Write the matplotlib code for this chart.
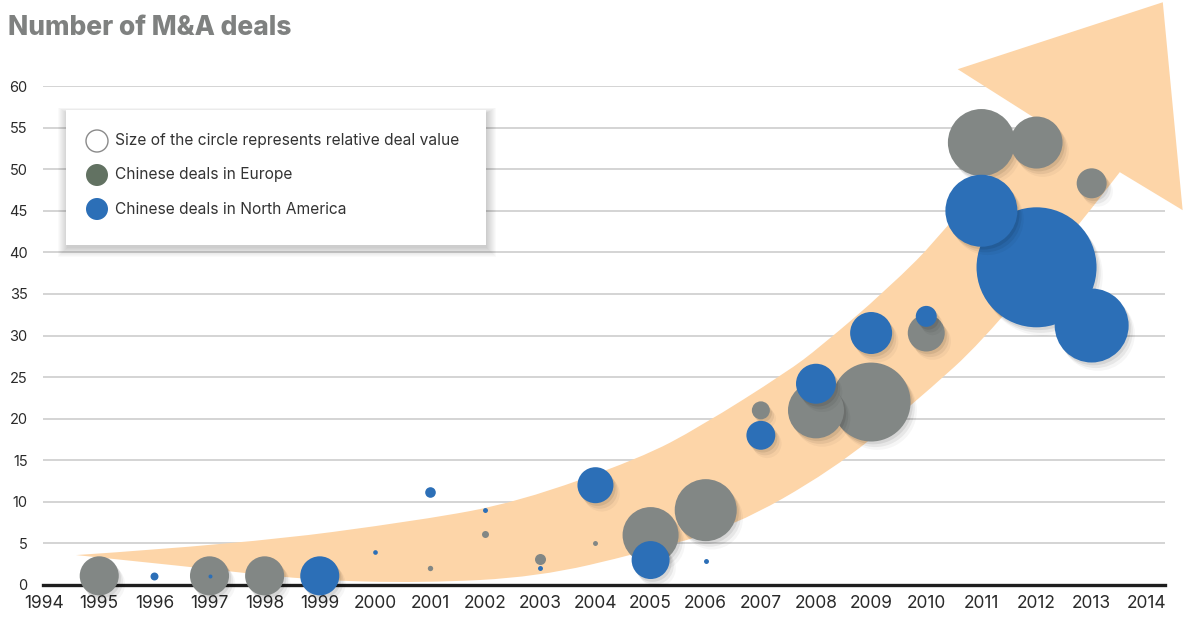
import numpy as np
import matplotlib
matplotlib.use("Agg")
import matplotlib.pyplot as plt
from matplotlib.path import Path
from matplotlib.patches import PathPatch, Rectangle, Circle
import matplotlib.patheffects as pe

plt.rcParams['font.family'] = ['Inter', 'DejaVu Sans']

# ---- data ----
years = list(range(1994, 2015))

eu_years = [1995, 1997, 1998, 2001, 2002, 2003, 2004, 2005, 2006, 2007, 2008, 2009, 2010, 2011, 2012, 2013]
eu_deals = [1.1, 1.1, 1.1, 2.0, 6.1, 3.1, 5.0, 6.0, 9.0, 21.0, 21.0, 22.0, 30.3, 53.2, 53.2, 48.3]
eu_value = [10.6, 10.6, 10.6, 0.2, 0.34, 0.84, 0.17, 21.8, 26.7, 2.25, 21.8, 43.3, 9.5, 31.2, 18.8, 6.25]

na_years = [1996, 1997, 1999, 2000, 2001, 2002, 2003, 2004, 2005, 2006, 2007, 2008, 2009, 2010, 2011, 2012, 2013]
na_deals = [1.1, 1.1, 1.1, 4.0, 11.2, 9.0, 2.0, 12.0, 3.0, 2.9, 18.0, 24.2, 30.3, 32.3, 45.0, 38.2, 31.2]
na_value = [0.44, 0.11, 10.6, 0.15, 0.78, 0.17, 0.17, 9.0, 10.0, 0.17, 5.8, 11.1, 12.25, 3.06, 36.0, 100.0, 38.0]

# arrow outline (decoration) in data units
arrow_upper = [(1994.58, 3.6), (1997.59, 4.93), (2000.86, 7.81), (2002.60, 9.98), (2004.82, 15.26),
               (2005.89, 18.99), (2007.47, 25.6), (2008.07, 28.6), (2009.28, 35.46), (2010.37, 42.67),
               (2011.97, 56.13)]
arrow_head = [(2010.57, 62.02), (2014.29, 70.07), (2014.65, 45.07), (2013.51, 49.64)]
arrow_lower = [(2013.51, 49.64), (2011.39, 31.49), (2009.64, 21.03), (2008.30, 13.82), (2006.49, 6.97),
               (2004.82, 3.85), (2002.95, 0.96), (2000.86, 0.24), (1998.77, 0.60), (1996.69, 2.16),
               (1994.58, 3.6)]

GRAY = '#828785'
BLUE = '#2c6fb7'
PEACH = '#fdd5a8'


def smooth(points):
    # quadratic spline through the end points, interior points used as controls
    verts = [points[0]]
    codes = [Path.LINETO]
    for i in range(1, len(points) - 1):
        p = np.array(points[i])
        if i < len(points) - 2:
            end = (p + np.array(points[i + 1])) / 2
        else:
            end = np.array(points[-1])
        verts += [tuple(p), tuple(end)]
        codes += [Path.CURVE3, Path.CURVE3]
    return verts, codes


fig = plt.figure(figsize=(11.86, 6.18), dpi=100)
ax = fig.add_axes([43 / 1186, 33 / 618, 1122 / 1186, 499 / 618])
ax.set_xlim(1993.98, 2014.33)
ax.set_ylim(0, 60)

# arrow
v1, c1 = smooth(arrow_upper)
v2, c2 = smooth(arrow_lower)
verts = v1 + arrow_head + v2[1:] + [(0, 0)]
codes = c1 + [Path.LINETO] * len(arrow_head) + c2[1:] + [Path.CLOSEPOLY]
codes[0] = Path.MOVETO
arrow = PathPatch(Path(verts, codes), facecolor=PEACH, edgecolor='none', zorder=1, clip_on=False)
ax.add_patch(arrow)

shadow = [pe.SimplePatchShadow(offset=(1.5, -2), shadow_rgbFace='k', alpha=0.08),
          pe.SimplePatchShadow(offset=(3, -4), shadow_rgbFace='k', alpha=0.06),
          pe.SimplePatchShadow(offset=(4.5, -6), shadow_rgbFace='k', alpha=0.035),
          pe.Normal()]


def bubbles(xs, ys, vals, color, z0):
    order = np.argsort(vals)[::-1]
    for k, i in enumerate(order):
        s = vals[i] * 74.65
        ax.scatter(xs[i], ys[i], s=s, color=color, linewidths=0, zorder=z0 + k * 0.01,
                   clip_on=False, path_effects=shadow if vals[i] > 1 else None)


bubbles(eu_years, eu_deals, eu_value, GRAY, 3)
bubbles(na_years, na_deals, na_value, BLUE, 4)

# axes styling
ax.set_xticks(years)
ax.set_xticklabels([str(y) for y in years], fontsize=12.5, color='#2a2a2a')
ax.set_yticks(range(0, 65, 5))
ax.set_yticklabels([str(v) for v in range(0, 65, 5)], fontsize=10.5, color='#2a2a2a')
ax.tick_params(axis='both', length=0)
ax.tick_params(axis='x', pad=7)
ax.tick_params(axis='y', pad=11)
ax.set_axisbelow(True)
ax.yaxis.grid(True, color='#c9c9c9', linewidth=1.1)
for side in ['top', 'left', 'right']:
    ax.spines[side].set_visible(False)
ax.spines['bottom'].set_color('#1e1e1e')
ax.spines['bottom'].set_linewidth(2.4)
ax.spines['bottom'].set_zorder(2)

# overlay in pixel units for title and legend box
lax = fig.add_axes([0, 0, 1, 1], zorder=10)
lax.set_xlim(0, 1186)
lax.set_ylim(618, 0)
lax.axis('off')

lax.text(8, 35, 'Number of M&A deals', fontsize=19, fontweight='heavy', color='#7f8180', va='baseline')

bx, by, bw, bh = 66, 110, 420, 135
for i in range(10):
    lax.add_patch(Rectangle((bx - i + 1, by - i * 0.6 + 3), bw + 2 * i, bh + 1.6 * i,
                            facecolor='k', edgecolor='none', alpha=0.018))
lax.add_patch(Rectangle((bx, by), bw, bh, facecolor='white', edgecolor='none'))

legend_labels = ['Size of the circle represents relative deal value',
                 'Chinese deals in Europe',
                 'Chinese deals in North America']
legend_faces = ['white', '#627262', BLUE]
legend_edges = ['#8a8a8a', 'none', 'none']
for i, lab in enumerate(legend_labels):
    cy = 141 + i * 34
    lax.add_patch(Circle((97, cy), 11, facecolor=legend_faces[i], edgecolor=legend_edges[i], linewidth=1))
    lax.text(115, cy, lab, fontsize=11.2, color='#333333', va='center', ha='left')

fig.savefig('out.png', dpi=100)
